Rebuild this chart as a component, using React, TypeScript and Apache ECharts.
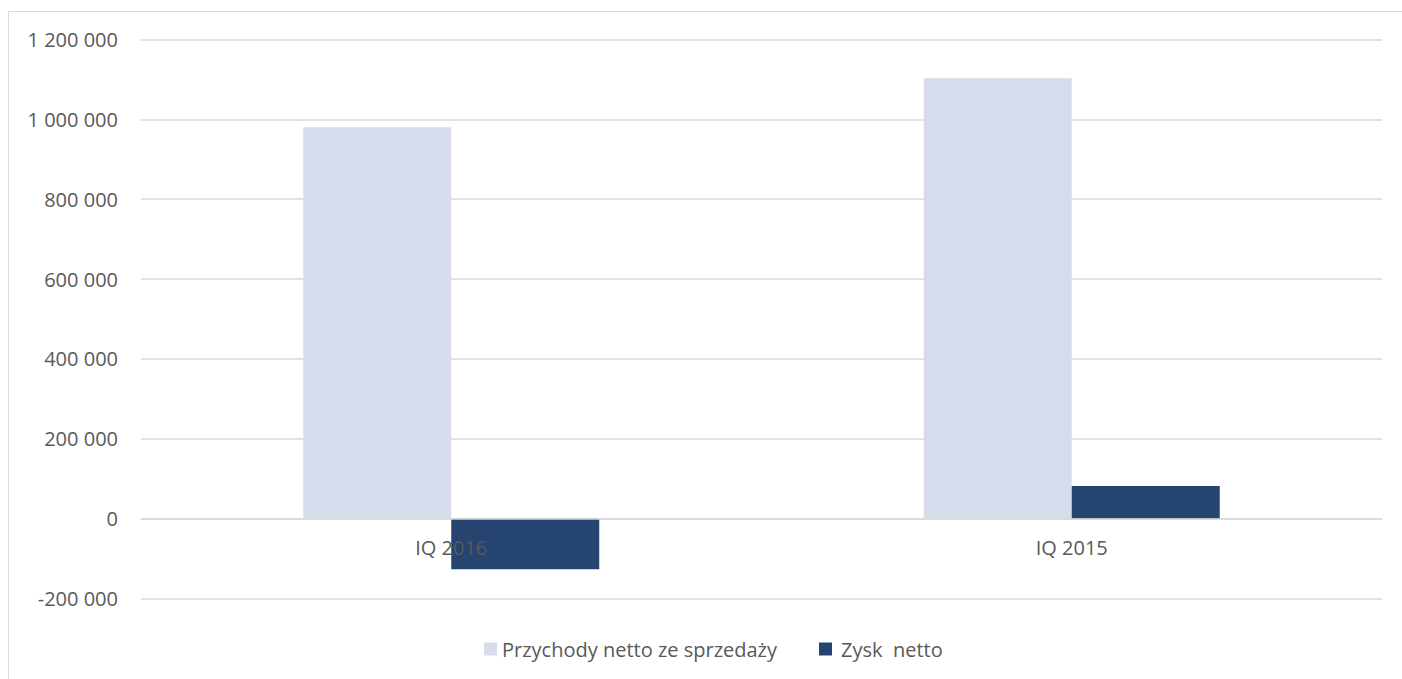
import React, { useEffect, useRef } from "react";
import * as echarts from "echarts";

const categories = ["IQ 2016", "IQ 2015"];
const seriesNames = ["Przychody netto ze sprzedaży", "Zysk  netto"];
const revenue = [980000, 1103000];
const netProfit = [-127000, 82000];
const yMin = -200000;
const yMax = 1200000;
const yStep = 200000;

const FONT = "'Open Sans', 'Noto Sans', sans-serif";
const TEXT = "#595959";
const GRID = "#d9d9d9";

const GRID_TOP = 39.5;
const GRID_BOTTOM = 80.5;
const HEIGHT = 679;

const fmt = (v: number) => {
  const s = Math.abs(v).toString().replace(/\B(?=(\d{3})+(?!\d))/g, " ");
  return (v < 0 ? "-" : "") + s;
};

// distance from the plot's bottom edge up to the zero value, so the category axis sits on zero
const plotHeight = HEIGHT - GRID_TOP - GRID_BOTTOM;
const zeroOffset = (plotHeight * (0 - yMin)) / (yMax - yMin);

export default function App() {
  const ref = useRef<HTMLDivElement>(null);

  useEffect(() => {
    if (!ref.current) return;
    const chart = echarts.init(ref.current, null, { renderer: "svg" });
    chart.setOption({
      animation: false,
      backgroundColor: "#ffffff",
      textStyle: { fontFamily: FONT },
      graphic: [
        {
          type: "rect",
          shape: { x: 8.5, y: 11.5, width: 1420, height: 700 },
          style: { fill: "none", stroke: GRID, lineWidth: 1 },
          silent: true,
          z: -10,
        },
      ],
      grid: { left: 141, right: 20, top: GRID_TOP, bottom: GRID_BOTTOM, containLabel: false },
      legend: {
        bottom: 15,
        left: 479,
        itemWidth: 13,
        itemHeight: 13,
        itemGap: 42,
        icon: "rect",
        textStyle: { color: TEXT, fontSize: 20, fontFamily: FONT },
        data: [
          { name: seriesNames[0] },
          { name: seriesNames[1], textStyle: { padding: [0, 0, 0, 4] } },
        ],
      },
      xAxis: {
        type: "category",
        data: categories,
        z: 5,
        offset: -zeroOffset,
        axisLine: { onZero: false, lineStyle: { color: GRID, width: 1.5 } },
        axisTick: { show: false },
        axisLabel: { color: TEXT, fontSize: 20, fontFamily: FONT, margin: 19 },
      },
      yAxis: {
        type: "value",
        min: yMin,
        max: yMax,
        interval: yStep,
        axisLine: { show: false },
        axisTick: { show: false },
        splitLine: { lineStyle: { color: GRID, width: 1.5 } },
        axisLabel: {
          color: TEXT,
          fontSize: 20,
          fontFamily: FONT,
          margin: 23,
          formatter: (v: number) => fmt(v),
        },
      },
      series: [
        {
          name: seriesNames[0],
          type: "bar",
          data: revenue,
          barWidth: 148,
          barGap: "0%",
          itemStyle: { color: "#D6DCEB" },
        },
        {
          name: seriesNames[1],
          type: "bar",
          data: netProfit,
          barWidth: 148,
          barGap: "0%",
          itemStyle: { color: "#25446F" },
        },
      ],
    });
    return () => chart.dispose();
  }, []);

  return (
    <div
      ref={ref}
      style={{ position: "absolute", left: 0, top: 0, width: 1402, height: 679 }}
    />
  );
}
